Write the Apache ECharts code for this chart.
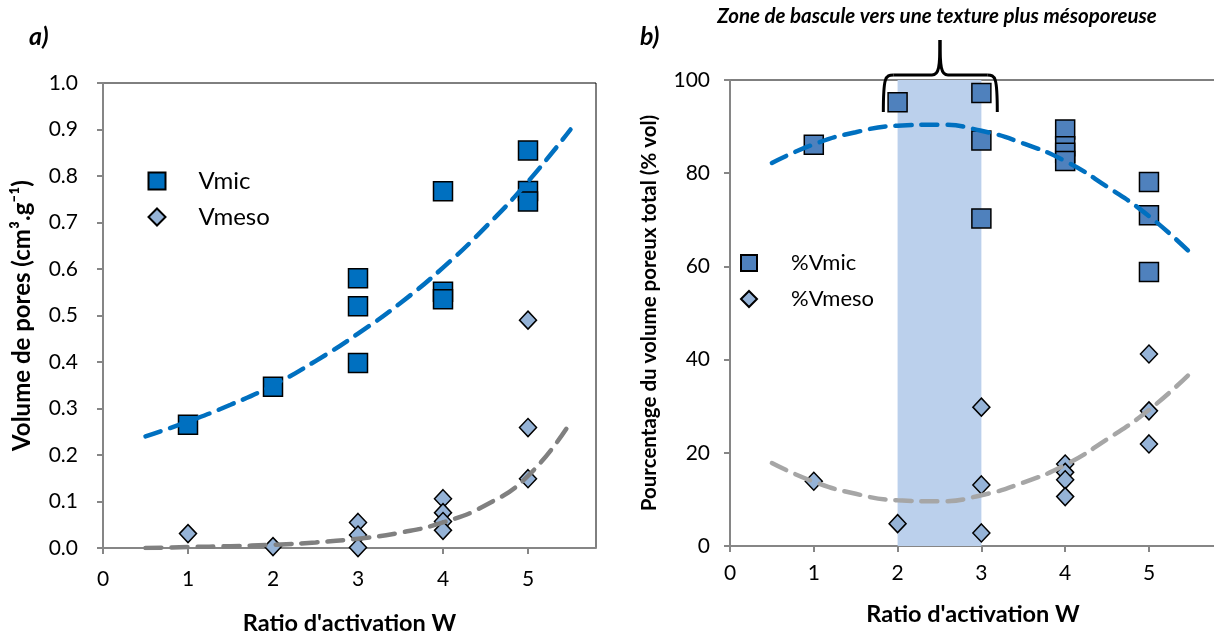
<!DOCTYPE html>
<html>
<head>
<meta charset="utf-8">
<script src="https://cdn.jsdelivr.net/npm/echarts@6/dist/echarts.min.js"></script>
<style>html,body{margin:0;padding:0;background:#fff;}#c{width:1214px;height:633px;}</style>
</head>
<body>
<div id="c"></div>
<script>
// ---- data ----
const xTicks = [0, 1, 2, 3, 4, 5];
const yTicksA = [0, 0.1, 0.2, 0.3, 0.4, 0.5, 0.6, 0.7, 0.8, 0.9, 1.0];
const yTicksB = [0, 20, 40, 60, 80, 100];

const vmicX = [1, 2, 3, 3, 3, 4, 4, 4, 5, 5, 5];
const vmicY = [0.265, 0.347, 0.58, 0.52, 0.398, 0.767, 0.551, 0.535, 0.855, 0.768, 0.745];
const vmesoX = [1, 2, 3, 3, 3, 4, 4, 4, 4, 5, 5, 5];
const vmesoY = [0.031, 0.003, 0.055, 0.028, 0.001, 0.106, 0.076, 0.057, 0.038, 0.49, 0.259, 0.149];

const trendX = [0.5, 1, 1.5, 2, 2.5, 3, 3.5, 4, 4.5, 5, 5.5];
const vmicTrend = [0.24, 0.272, 0.308, 0.35, 0.402, 0.461, 0.527, 0.603, 0.69, 0.788, 0.9];
const vmesoTrend = [0.0, 0.002, 0.004, 0.007, 0.012, 0.02, 0.033, 0.055, 0.092, 0.155, 0.27];

const pmicX = [1, 2, 3, 3, 3, 4, 4, 4, 4, 5, 5, 5];
const pmicY = [86.1, 95.2, 97.2, 87.0, 70.3, 89.4, 85.8, 84.4, 82.6, 78.1, 71.0, 58.8];
const pmesoX = [1, 2, 3, 3, 3, 4, 4, 4, 4, 5, 5, 5];
const pmesoY = [13.9, 4.8, 29.8, 13.1, 2.8, 17.6, 15.8, 14.2, 10.6, 41.2, 29.0, 21.9];

const pmicTrend = [82.2, 86.2, 88.8, 90.2, 90.4, 89.1, 86.4, 82.6, 77.1, 70.8, 62.8];
const pmesoTrend = [17.8, 13.8, 11.2, 9.8, 9.6, 10.9, 13.6, 17.4, 22.9, 29.2, 37.2];

const bandX = [2, 3];
const labelA = 'a)';
const labelB = 'b)';
const zoneTitle = 'Zone de bascule vers une texture plus mésoporeuse';

// ---- helpers ----
const pair = (xs, ys) => xs.map((x, i) => [x, ys[i]]);
const FONT = 'Lato, "Open Sans", sans-serif';
const AXIS_GRAY = '#868686';
const DASH = [16, 10];

function xAxisDef(gi, labelMargin, nameGap) {
  return {
    type: 'value', gridIndex: gi, min: 0, max: 5.8, interval: 1,
    axisLine: { show: true, lineStyle: { color: AXIS_GRAY, width: 2 } },
    axisTick: { show: true, inside: false, length: 6, lineStyle: { color: AXIS_GRAY, width: 2 }, customValues: xTicks },
    axisLabel: { customValues: xTicks, formatter: v => (Number.isInteger(v) ? String(v) : ''), fontFamily: FONT, fontSize: 21, color: '#000', margin: labelMargin },
    splitLine: { show: false },
    name: "Ratio d'activation W", nameLocation: 'middle', nameGap: nameGap,
    nameTextStyle: { fontFamily: FONT, fontSize: 23.5, fontWeight: 'bold', color: '#000' }
  };
}

const option = {
  animation: false,
  backgroundColor: '#fff',
  grid: [
    { left: 103, top: 83, width: 493, height: 465, show: true, borderColor: '#000', borderWidth: 1, backgroundColor: 'transparent', outerBoundsMode: 'none', containLabel: false },
    { left: 730, top: 80, width: 486, height: 466, show: true, borderColor: '#000', borderWidth: 1, backgroundColor: 'transparent', outerBoundsMode: 'none', containLabel: false }
  ],
  xAxis: [xAxisDef(0, 21, 63), xAxisDef(1, 17, 56)],
  yAxis: [
    {
      type: 'value', gridIndex: 0, min: 0, max: 1, interval: 0.1,
      axisLine: { show: true, lineStyle: { color: AXIS_GRAY, width: 2 } },
      axisTick: { show: true, length: 6, lineStyle: { color: AXIS_GRAY, width: 2 } },
      axisLabel: { formatter: v => v.toFixed(1), fontFamily: FONT, fontSize: 21, color: '#000', margin: 25 },
      splitLine: { show: false },
      name: 'Volume de pores (cm³.g⁻¹)', nameLocation: 'middle', nameGap: 69,
      nameTextStyle: { fontFamily: FONT, fontSize: 24, fontWeight: 'bold', color: '#000' }
    },
    {
      type: 'value', gridIndex: 1, min: 0, max: 100, interval: 20,
      axisLine: { show: true, lineStyle: { color: AXIS_GRAY, width: 2 } },
      axisTick: { show: true, length: 6, lineStyle: { color: AXIS_GRAY, width: 2 } },
      axisLabel: { fontFamily: FONT, fontSize: 21, color: '#000', margin: 20 },
      splitLine: { show: false },
      name: 'Pourcentage du volume poreux total (% vol)', nameLocation: 'middle', nameGap: 70,
      nameTextStyle: { fontFamily: FONT, fontSize: 20.5, fontWeight: 'bold', color: '#000' }
    }
  ],
  legend: [
    {
      data: [{ name: 'Vmic', icon: 'rect' }, { name: 'Vmeso', icon: 'diamond' }],
      orient: 'vertical', left: 147.5, top: 169, padding: 0, itemWidth: 17, itemHeight: 17, itemGap: 12,
      textStyle: { fontFamily: FONT, fontSize: 24, color: '#000', padding: [0, 0, 0, 28] }, selectedMode: false
    },
    {
      data: [{ name: '%Vmic', icon: 'rect' }, { name: '%Vmeso', icon: 'diamond' }],
      orient: 'vertical', left: 740, top: 252, padding: 0, itemWidth: 16, itemHeight: 16, itemGap: 14,
      textStyle: { fontFamily: FONT, fontSize: 22, color: '#000', padding: [0, 0, 0, 29] }, selectedMode: false
    }
  ],
  series: [
    {
      name: 'Vmic', type: 'scatter', xAxisIndex: 0, yAxisIndex: 0, symbol: 'rect', symbolSize: 19, z: 3,
      itemStyle: { color: '#0070C0', borderColor: '#000', borderWidth: 1.5, opacity: 1 },
      data: pair(vmicX, vmicY)
    },
    {
      name: 'Vmeso', type: 'scatter', xAxisIndex: 0, yAxisIndex: 0, symbol: 'diamond', symbolSize: [17, 18], z: 3,
      itemStyle: { color: '#95B3D7', borderColor: '#000', borderWidth: 1.5, opacity: 1 },
      data: pair(vmesoX, vmesoY)
    },
    {
      name: 'trendVmic', type: 'line', xAxisIndex: 0, yAxisIndex: 0, smooth: true, showSymbol: false, z: 4,
      lineStyle: { color: '#0070C0', width: 4.5, type: DASH, cap: 'round' },
      data: pair(trendX, vmicTrend)
    },
    {
      name: 'trendVmeso', type: 'line', xAxisIndex: 0, yAxisIndex: 0, smooth: true, showSymbol: false, z: 4,
      lineStyle: { color: '#808080', width: 4.5, type: DASH, cap: 'round' },
      data: pair(trendX, vmesoTrend)
    },
    {
      name: 'band', type: 'scatter', xAxisIndex: 1, yAxisIndex: 1, data: [], z: 1, silent: true,
      markArea: { silent: true, itemStyle: { color: '#BBD0EC', opacity: 1 }, data: [[{ xAxis: bandX[0] }, { xAxis: bandX[1] }]] }
    },
    {
      name: '%Vmic', type: 'scatter', xAxisIndex: 1, yAxisIndex: 1, symbol: 'rect', symbolSize: 19, z: 3,
      itemStyle: { color: '#4F81BD', borderColor: '#000', borderWidth: 1.5, opacity: 1 },
      data: pair(pmicX, pmicY)
    },
    {
      name: '%Vmeso', type: 'scatter', xAxisIndex: 1, yAxisIndex: 1, symbol: 'diamond', symbolSize: [17, 18], z: 3,
      itemStyle: { color: '#95B3D7', borderColor: '#000', borderWidth: 1.5, opacity: 1 },
      data: pair(pmesoX, pmesoY)
    },
    {
      name: 'trendPmic', type: 'line', xAxisIndex: 1, yAxisIndex: 1, smooth: true, showSymbol: false, z: 4,
      lineStyle: { color: '#0070C0', width: 4.5, type: DASH, cap: 'round' },
      data: pair(trendX, pmicTrend)
    },
    {
      name: 'trendPmeso', type: 'line', xAxisIndex: 1, yAxisIndex: 1, smooth: true, showSymbol: false, z: 4,
      lineStyle: { color: '#A6A6A6', width: 4.5, type: DASH, cap: 'round' },
      data: pair(trendX, pmesoTrend)
    }
  ]
};

const chart = echarts.init(document.getElementById('c'), null, { renderer: 'canvas' });
chart.setOption(option);

// annotations: panel labels, zone title and brace, positioned from the axes
const pL = chart.convertToPixel({ gridIndex: 1 }, [1.83, 100]);
const pR = chart.convertToPixel({ gridIndex: 1 }, [3.19, 100]);
const pC = chart.convertToPixel({ gridIndex: 1 }, [2.506, 100]);
const yTop = pL[1] - 5;       // horizontal part of brace
const yEnd = pL[1] + 32;      // lower ends of brace
const yTip = pL[1] - 40;      // tip of brace
const x0 = pL[0], x1 = pR[0], xc = pC[0];
const braceStyle = { stroke: '#000', lineWidth: 3, fill: null };

chart.setOption({
  graphic: [
    { type: 'text', left: 29, top: 24, style: { text: labelA, font: 'italic bold 25px ' + FONT, fill: '#000' } },
    { type: 'text', left: 640, top: 24, style: { text: labelB, font: 'italic bold 25px ' + FONT, fill: '#000' } },
    { type: 'text', x: xc - 3, y: 6, style: { text: zoneTitle, font: 'italic bold 20.5px ' + FONT, fill: '#000', textAlign: 'center' } },
    { type: 'bezierCurve', shape: { x1: x0, y1: yEnd, cpx1: x0, cpy1: yTop + 2, cpx2: x0 + 2, cpy2: yTop, x2: x0 + 10, y2: yTop }, style: braceStyle, z: 10 },
    { type: 'line', shape: { x1: x0 + 10, y1: yTop, x2: xc - 8, y2: yTop }, style: braceStyle, z: 10 },
    { type: 'bezierCurve', shape: { x1: xc - 8, y1: yTop, cpx1: xc - 1, cpy1: yTop, cpx2: xc, cpy2: yTop - 8, x2: xc, y2: yTip }, style: braceStyle, z: 10 },
    { type: 'bezierCurve', shape: { x1: xc + 8, y1: yTop, cpx1: xc + 1, cpy1: yTop, cpx2: xc, cpy2: yTop - 8, x2: xc, y2: yTip }, style: braceStyle, z: 10 },
    { type: 'line', shape: { x1: xc + 8, y1: yTop, x2: x1 - 10, y2: yTop }, style: braceStyle, z: 10 },
    { type: 'bezierCurve', shape: { x1: x1, y1: yEnd, cpx1: x1, cpy1: yTop + 2, cpx2: x1 - 2, cpy2: yTop, x2: x1 - 10, y2: yTop }, style: braceStyle, z: 10 }
  ]
});
</script>
</body>
</html>
